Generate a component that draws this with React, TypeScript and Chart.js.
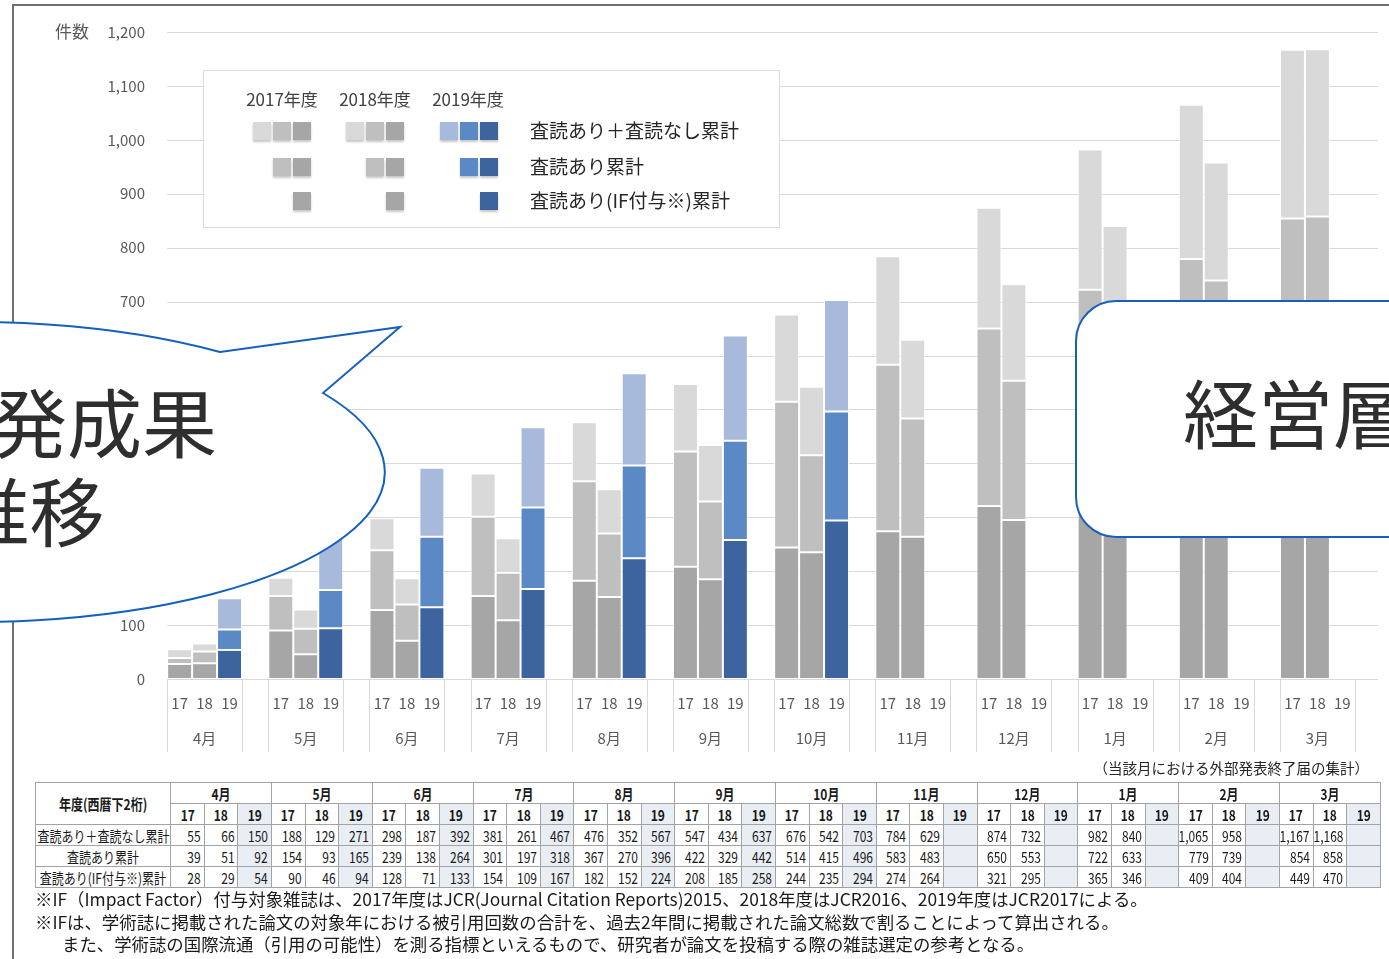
import React, { useEffect, useRef } from "react";
import { Chart, registerables } from "chart.js";

Chart.register(...registerables);

// ---------- data ----------
const months = ["4月", "5月", "6月", "7月", "8月", "9月", "10月", "11月", "12月", "1月", "2月", "3月"];
const yearCodes = ["17", "18", "19"];
const fiscalYears = ["2017年度", "2018年度", "2019年度"];
const seriesLabels = ["査読あり＋査読なし累計", "査読あり累計", "査読あり(IF付与※)累計"];

const total2017 = [55, 188, 298, 381, 476, 547, 676, 784, 874, 982, 1065, 1167];
const peer2017 = [39, 154, 239, 301, 367, 422, 514, 583, 650, 722, 779, 854];
const impact2017 = [28, 90, 128, 154, 182, 208, 244, 274, 321, 365, 409, 449];

const total2018 = [66, 129, 187, 261, 352, 434, 542, 629, 732, 840, 958, 1168];
const peer2018 = [51, 93, 138, 197, 270, 329, 415, 483, 553, 633, 739, 858];
const impact2018 = [29, 46, 71, 109, 152, 185, 235, 264, 295, 346, 404, 470];

const total2019 = [150, 271, 392, 467, 567, 637, 703, null, null, null, null, null];
const peer2019 = [92, 165, 264, 318, 396, 442, 496, null, null, null, null, null];
const impact2019 = [54, 94, 133, 167, 224, 258, 294, null, null, null, null, null];

const yMin = 0;
const yMax = 1200;
const yStep = 100;
const yAxisTitle = "件数";
const tableNote = "（当該月における外部発表終了届の集計）";
const tableHeader = "年度(西暦下2桁)";
const footnotes = [
  "※IF（Impact Factor）付与対象雑誌は、2017年度はJCR(Journal Citation Reports)2015、2018年度はJCR2016、2019年度はJCR2017による。",
  "※IFは、学術誌に掲載された論文の対象年における被引用回数の合計を、過去2年間に掲載された論文総数で割ることによって算出される。",
  "また、学術誌の国際流通（引用の可能性）を測る指標といえるもので、研究者が論文を投稿する際の雑誌選定の参考となる。",
];
const calloutLeft = ["研究開発成果", "の推移"];
const calloutRight = "経営層";

// ---------- styles ----------
const FONT = '"Noto Sans CJK JP", "Noto Sans", sans-serif';
const grayColors = ["#a6a6a6", "#bfbfbf", "#d9d9d9"]; // dark, mid, light
const blueColors = ["#3e64a0", "#5b89c6", "#a8badb"];
const gridColor = "#d9d9d9";
const axisText = "#595959";
const calloutBlue = "#1560bd";

const yearData = [
  { total: total2017, peer: peer2017, impact: impact2017 },
  { total: total2018, peer: peer2018, impact: impact2018 },
  { total: total2019, peer: peer2019, impact: impact2019 },
];

const fmt = (v: number | null) => (v == null ? "" : v.toLocaleString("en-US"));

function buildDatasets() {
  const ds: any[] = [];
  yearData.forEach((yd, yi) => {
    const colors = yi === 2 ? blueColors : grayColors;
    const dark = yd.impact;
    const mid = yd.peer.map((p, i) => (p == null || yd.impact[i] == null ? null : p - (yd.impact[i] as number)));
    const light = yd.total.map((t, i) => (t == null || yd.peer[i] == null ? null : t - (yd.peer[i] as number)));
    [dark, mid, light].forEach((data, li) => {
      ds.push({
        label: `${fiscalYears[yi]} ${seriesLabels[2 - li]}`,
        data,
        stack: "y" + yi,
        backgroundColor: colors[li],
        borderColor: "#ffffff",
        borderWidth: 1,
        borderSkipped: false,
        categoryPercentage: 0.74,
        barPercentage: 1,
      });
    });
  });
  return ds;
}

function groupXs(chart: any, i: number) {
  const xs: number[] = [];
  let w = 0;
  for (let y = 0; y < 3; y++) {
    const el = chart.getDatasetMeta(y * 3).data[i];
    if (el && isFinite(el.x)) xs.push(el.x);
    if (el && isFinite(el.width) && el.width > 0) w = el.width;
  }
  while (xs.length < 3 && xs.length >= 2) xs.push(xs[xs.length - 1] + (xs[1] - xs[0]));
  return { xs, w };
}

const gridPlugin = {
  id: "customGrid",
  beforeDatasetsDraw(chart: any) {
    const { ctx, chartArea, scales } = chart;
    const first = groupXs(chart, 0);
    const left = first.xs[0] - first.w / 2;
    const right = chartArea.right + 10;
    ctx.save();
    ctx.strokeStyle = gridColor;
    ctx.lineWidth = 1;
    for (let v = yMin; v <= yMax; v += yStep) {
      const y = Math.round(scales.y.getPixelForValue(v)) + 0.5;
      ctx.beginPath();
      ctx.moveTo(left, y);
      ctx.lineTo(right, y);
      ctx.stroke();
    }
    ctx.restore();
  },
};

const labelPlugin = {
  id: "customLabels",
  afterDraw(chart: any) {
    const { ctx, chartArea, scales } = chart;
    const bottom = chartArea.bottom;
    ctx.save();
    // x-axis two-level labels
    ctx.font = `15px ${FONT}`;
    ctx.fillStyle = axisText;
    ctx.textAlign = "center";
    ctx.textBaseline = "middle";
    months.forEach((m, i) => {
      const { xs, w } = groupXs(chart, i);
      xs.forEach((x, k) => ctx.fillText(yearCodes[k], x, bottom + 24));
      const l = xs[0] - w / 2;
      const r = xs[2] + w / 2;
      ctx.fillText(m, (l + r) / 2, bottom + 59);
      ctx.strokeStyle = gridColor;
      ctx.lineWidth = 1;
      [l, r].forEach((x) => {
        const px = Math.round(x) + 0.5;
        ctx.beginPath();
        ctx.moveTo(px, bottom + 1);
        ctx.lineTo(px, bottom + 73);
        ctx.stroke();
      });
    });
    // y-axis title
    ctx.font = `17px ${FONT}`;
    ctx.textAlign = "left";
    ctx.fillText(yAxisTitle, 55, scales.y.getPixelForValue(yMax));

    // legend box
    const bx = 203, by = 70, bw = 576, bh = 157;
    ctx.fillStyle = "#ffffff";
    ctx.fillRect(bx, by, bw, bh);
    ctx.strokeStyle = "#dcdcdc";
    ctx.strokeRect(bx + 0.5, by + 0.5, bw, bh);
    const headerX = [282, 375, 468];
    const swatchRight = [311, 404, 498];
    const rowY = [131, 167, 201];
    ctx.font = `17px ${FONT}`;
    ctx.fillStyle = "#404040";
    ctx.textAlign = "center";
    fiscalYears.forEach((fy, k) => ctx.fillText(fy, headerX[k], 100));
    rowY.forEach((ry, r) => {
      const count = 3 - r;
      for (let k = 0; k < 3; k++) {
        const colors = k === 2 ? blueColors : grayColors;
        for (let m = 0; m < count; m++) {
          const x = swatchRight[k] - 18 - m * 20;
          ctx.save();
          ctx.shadowColor = "rgba(0,0,0,0.22)";
          ctx.shadowOffsetY = 2;
          ctx.shadowBlur = 2;
          ctx.fillStyle = colors[m];
          ctx.fillRect(x, ry - 9, 18, 18);
          ctx.restore();
        }
      }
      ctx.font = `19px ${FONT}`;
      ctx.fillStyle = "#262626";
      ctx.textAlign = "left";
      ctx.fillText(seriesLabels[r], 530, ry);
    });
    ctx.restore();
  },
};

const cellBase: React.CSSProperties = {
  border: "1px solid #a3a3a3",
  padding: 0,
  overflow: "hidden",
  whiteSpace: "nowrap",
  lineHeight: "19px",
};
const shade = "#e9edf4";

function Squeeze({ children, align = "center", bold = false }: any) {
  return (
    <span
      style={{
        display: "inline-block",
        transform: "scaleX(0.8)",
        transformOrigin: align === "right" ? "right center" : "center center",
        fontWeight: bold ? 700 : 400,
        marginLeft: -30,
        marginRight: align === "right" ? 0 : -30,
      }}
    >
      {children}
    </span>
  );
}

export default function App() {
  const canvasRef = useRef<HTMLCanvasElement | null>(null);

  useEffect(() => {
    if (!canvasRef.current) return;
    const chart = new Chart(canvasRef.current, {
      type: "bar",
      data: { labels: months, datasets: buildDatasets() },
      options: {
        responsive: false,
        animation: false,
        layout: { padding: { top: 32, bottom: 81, left: 0, right: 21 } },
        plugins: { legend: { display: false }, tooltip: { enabled: false } },
        scales: {
          x: { stacked: true, display: false },
          y: {
            stacked: true,
            min: yMin,
            max: yMax,
            grid: { display: false, drawTicks: false },
            border: { display: false },
            ticks: {
              stepSize: yStep,
              padding: 9,
              color: axisText,
              font: { size: 15, family: FONT },
              callback: (v: any) => Number(v).toLocaleString("en-US"),
            },
            afterFit: (s: any) => {
              s.width = 154;
            },
          },
        },
      } as any,
      plugins: [gridPlugin, labelPlugin],
    });
    return () => chart.destroy();
  }, []);

  const rowDefs: { label: string; key: "total" | "peer" | "impact" }[] = [
    { label: seriesLabels[0], key: "total" },
    { label: seriesLabels[1], key: "peer" },
    { label: seriesLabels[2], key: "impact" },
  ];
  const subW = 1208 / 36;

  return (
    <div
      style={{
        position: "fixed",
        left: 0,
        top: 0,
        width: 1389,
        height: 959,
        overflow: "hidden",
        background: "#ffffff",
        fontFamily: FONT,
      }}
    >
      <div
        style={{
          position: "absolute",
          left: 12,
          top: 4,
          width: 1400,
          height: 1000,
          borderLeft: "2px solid #707070",
          borderTop: "2px solid #707070",
        }}
      />
      <canvas ref={canvasRef} width={1389} height={760} style={{ position: "absolute", left: 0, top: 0 }} />

      <div
        style={{
          position: "absolute",
          right: 20,
          top: 757,
          fontSize: 14.5,
          lineHeight: "22px",
          color: "#262626",
          whiteSpace: "nowrap",
        }}
      >
        {tableNote}
      </div>

      <table
        style={{
          position: "absolute",
          left: 35,
          top: 782,
          width: 1346,
          borderCollapse: "collapse",
          tableLayout: "fixed",
          fontSize: 15,
          color: "#1a1a1a",
          background: "#ffffff",
        }}
      >
        <colgroup>
          <col style={{ width: 135 }} />
          {months.flatMap((m) => yearCodes.map((y) => <col key={m + y} style={{ width: subW }} />))}
        </colgroup>
        <tbody>
          <tr style={{ height: 21 }}>
            <td rowSpan={2} style={{ ...cellBase, textAlign: "center" }}>
              <Squeeze bold>{tableHeader}</Squeeze>
            </td>
            {months.map((m) => (
              <td key={m} colSpan={3} style={{ ...cellBase, textAlign: "center" }}>
                <Squeeze bold>{m}</Squeeze>
              </td>
            ))}
          </tr>
          <tr style={{ height: 21 }}>
            {months.flatMap((m) =>
              yearCodes.map((y, k) => (
                <td key={m + y} style={{ ...cellBase, textAlign: "center", background: k === 2 ? shade : "#ffffff" }}>
                  <Squeeze bold>{y}</Squeeze>
                </td>
              ))
            )}
          </tr>
          {rowDefs.map((r) => (
            <tr key={r.key} style={{ height: 21 }}>
              <td style={{ ...cellBase, textAlign: "center" }}>
                <Squeeze>{r.label}</Squeeze>
              </td>
              {months.flatMap((m, i) =>
                yearData.map((yd, k) => (
                  <td
                    key={m + k}
                    style={{
                      ...cellBase,
                      textAlign: "right",
                      paddingRight: 3,
                      background: k === 2 ? shade : "#ffffff",
                    }}
                  >
                    <Squeeze align="right">{fmt(yd[r.key][i] as any)}</Squeeze>
                  </td>
                ))
              )}
            </tr>
          ))}
        </tbody>
      </table>

      <div
        style={{
          position: "absolute",
          left: 35,
          top: 888,
          fontSize: 17.4,
          lineHeight: "22.5px",
          color: "#1a1a1a",
          whiteSpace: "pre",
        }}
      >
        {footnotes.map((t, i) => (
          <div key={i} style={{ paddingLeft: i === 2 ? 27 : 0 }}>
            {t}
          </div>
        ))}
      </div>

      <svg
        width={1389}
        height={959}
        style={{ position: "absolute", left: 0, top: 0, pointerEvents: "none" }}
      >
        <path
          d="M 220 352 L 400 327 L 323 393 A 412 150 0 1 1 220 352 Z"
          fill="#ffffff"
          stroke={calloutBlue}
          strokeWidth={2}
        />
        {calloutLeft.map((t, i) => (
          <text
            key={i}
            x={-8}
            y={419 + i * 89}
            fontSize={75}
            fontFamily={FONT}
            textAnchor="middle"
            dominantBaseline="central"
            fill="#2e2e2e"
          >
            {t}
          </text>
        ))}
        <rect x={1076} y={301} width={420} height={236} rx={40} ry={40} fill="#ffffff" stroke={calloutBlue} strokeWidth={2} />
        <text x={1183} y={410} fontSize={75} fontFamily={FONT} dominantBaseline="central" fill="#2e2e2e">
          {calloutRight}
        </text>
      </svg>
    </div>
  );
}
